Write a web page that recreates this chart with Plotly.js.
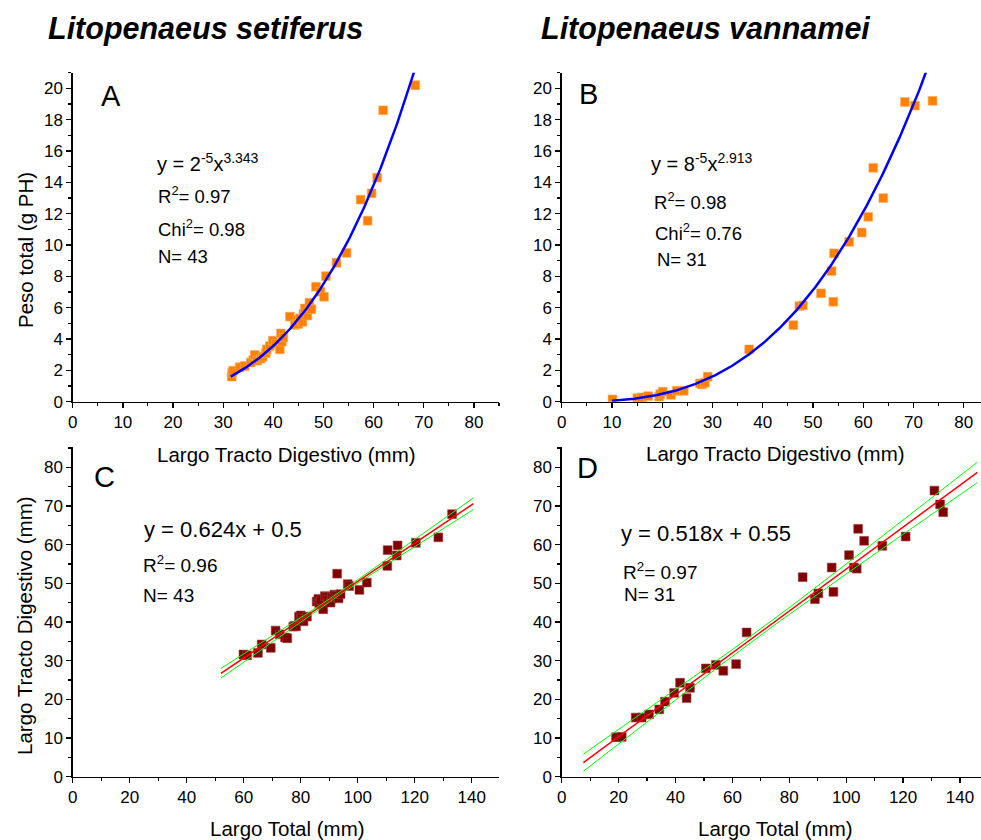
<!DOCTYPE html>
<html><head><meta charset="utf-8">
<script src="https://cdn.plot.ly/plotly-3.0.1.min.js"></script>
<style>body{margin:0;background:#fff}#chart{width:981px;height:840px}</style>
</head><body><div id="chart"></div>
<script>
// ---------- Data ----------
// Panel A: Litopenaeus setiferus, Largo Tracto Digestivo (mm) vs Peso total (g PH)
const aLength = [31.7,31.8,32.0,33.3,34.3,35.5,36.0,36.3,36.8,37.5,37.9,38.5,38.7,39.3,39.9,40.5,41.3,41.5,41.7,42.0,43.3,44.3,44.8,45.0,45.3,45.8,46.0,46.3,46.8,47.2,47.6,48.5,49.4,50.1,50.5,52.6,54.6,57.4,58.8,59.6,60.7,61.9,68.3];
const aWeight = [1.60,1.85,1.98,2.20,2.28,2.50,2.66,2.98,2.62,2.75,2.87,3.10,3.34,3.55,3.90,3.70,3.34,4.36,3.83,4.10,5.43,4.90,5.20,4.96,5.32,5.10,5.60,5.96,5.50,6.32,5.90,7.34,7.02,6.70,8.02,8.87,9.50,12.90,11.55,13.30,14.30,18.60,20.20];
// Panel B: Litopenaeus vannamei
const bLength = [10.1,15.05,15.8,16.1,17.2,19.4,19.6,20.1,21.75,22.9,24.3,27.5,27.9,28.5,29.05,37.3,46.1,47.3,48.0,51.6,54.05,53.7,54.2,57.2,59.7,61.0,64.0,62.0,68.3,70.3,73.8];
const bWeight = [0.15,0.22,0.25,0.28,0.36,0.32,0.48,0.64,0.43,0.70,0.70,1.17,1.10,1.21,1.60,3.34,4.89,6.10,6.15,6.92,6.38,8.34,9.47,10.2,10.8,11.8,13.0,14.93,19.13,18.9,19.2];
// Panel C: Largo Total (mm) vs Largo Tracto Digestivo (mm), L. setiferus
const cTotal = [59.9,61.2,65.0,66.3,69.5,71.2,72.7,74.5,75.3,77.4,78.0,78.4,79.4,80.0,80.4,81.0,82.2,85.6,86.2,86.5,87.0,87.9,88.5,89.1,89.7,90.5,91.0,91.8,92.5,92.8,93.3,94.0,96.5,97.0,100.6,103.2,110.4,110.5,113.7,114.0,120.4,128.3,133.1];
const cTract = [31.6,31.4,32.0,34.2,33.3,37.8,36.8,36.0,35.8,38.8,39.0,38.9,41.4,41.7,40.9,40.2,41.4,45.3,46.0,44.8,45.6,43.3,46.7,46.5,45.7,45.0,46.4,47.1,46.8,52.5,46.1,47.2,49.8,49.3,48.3,50.2,54.5,58.6,57.2,59.8,60.5,61.9,67.9];
// Panel D: L. vannamei
const dTotal = [19.1,21.1,26.0,28.1,30.7,34.3,36.3,39.5,41.6,43.9,45.1,50.7,54.2,56.8,61.3,65.0,84.7,89.0,90.2,94.9,95.5,101.0,102.7,103.7,104.2,106.3,112.7,120.9,131.0,133.0,134.1];
const dTract = [10.2,10.3,15.3,15.3,16.1,17.4,19.4,21.7,24.3,20.3,23.0,28.0,28.9,27.4,29.1,37.3,51.6,45.9,47.4,54.1,47.8,57.3,54.1,53.8,64.1,61.0,59.7,62.1,74.0,70.4,68.4];

// Fitted models as drawn
const aFit = {coef:1.57e-5, exp:3.343, from:31.5, to:70};
const bFit = {coef:8e-5, exp:2.913, from:10, to:76};
const cFit = {slope:0.495, icpt:1.0, from:52, to:140.6, hw0:0.35, hw1:0.03, xm:92};
const dFit = {slope:0.542, icpt:-0.5, from:7.6, to:146.1, hw0:0.8, hw1:0.033, xm:70};

// ---------- Helpers ----------
const W = 981, H = 840;
const px = x => x / W, py = y => 1 - y / H;
const FONT = 'Liberation Sans, Arial, sans-serif';

function powerCurve(f){
  const xs=[], ys=[];
  for(let x=f.from; x<=f.to+1e-9; x+=0.25){ xs.push(x); ys.push(f.coef*Math.pow(x,f.exp)); }
  return {xs, ys};
}
function linBands(f){
  const xs=[], y=[], up=[], lo=[];
  for(let x=f.from; x<=f.to+1e-9; x+=(f.to-f.from)/100){
    const yy=f.slope*x+f.icpt;
    const hw=Math.sqrt(f.hw0*f.hw0 + Math.pow(f.hw1*(x-f.xm),2));
    xs.push(x); y.push(yy); up.push(yy+hw); lo.push(yy-hw);
  }
  return {xs,y,up,lo};
}

const orange = '#FF8000', maroon = '#800000';
const traces = [];
function pts(x,y,color,xa,ya){
  traces.push({x,y,xaxis:xa,yaxis:ya,type:'scatter',mode:'markers',
    marker:{symbol:'square',size:8.8,color:color,line:{width:0.6,color:color==orange?'#ffb060':'#a04040'}},
    showlegend:false,hoverinfo:'x+y'});
}
function line(x,y,color,w,xa,ya){
  traces.push({x,y,xaxis:xa,yaxis:ya,type:'scatter',mode:'lines',line:{color,width:w},showlegend:false,hoverinfo:'skip'});
}

pts(aLength,aWeight,orange,'x','y');
const ac=powerCurve(aFit); line(ac.xs,ac.ys,'#0000FF',2.5,'x','y');
pts(bLength,bWeight,orange,'x2','y2');
const bc=powerCurve(bFit); line(bc.xs,bc.ys,'#0000FF',2.5,'x2','y2');
pts(cTotal,cTract,maroon,'x3','y3');
const cb=linBands(cFit);
line(cb.xs,cb.up,'#00FF00',1,'x3','y3'); line(cb.xs,cb.lo,'#00FF00',1,'x3','y3'); line(cb.xs,cb.y,'#FF0000',1.5,'x3','y3');
pts(dTotal,dTract,maroon,'x4','y4');
const db=linBands(dFit);
line(db.xs,db.up,'#00FF00',1,'x4','y4'); line(db.xs,db.lo,'#00FF00',1,'x4','y4'); line(db.xs,db.y,'#FF0000',1.5,'x4','y4');

function axis(domain, range, dtick, mdtick, anchor){
  return {domain, range, dtick, tick0:0, anchor, showline:true, linecolor:'#000', linewidth:1.3,
    ticks:'outside', ticklen:5, tickwidth:1.3, tickcolor:'#000',
    minor:{ticks:'outside', ticklen:3, tickwidth:1.1, tickcolor:'#000', dtick:mdtick, showgrid:false},
    showgrid:false, zeroline:false, tickfont:{family:FONT,size:17,color:'#000'}, fixedrange:true};
}
const xTop=[px(72.7),px(499)], xTopR=[px(561.7),1];
const yTop=[py(401.7),py(72.7)], yBot=[py(776.7),py(447.3)];

const layout = {
  width:W, height:H, margin:{l:0,r:0,t:0,b:0}, paper_bgcolor:'#fff', plot_bgcolor:'rgba(0,0,0,0)',
  font:{family:FONT,color:'#000'},
  xaxis: axis(xTop,[0,85],10,5,'y'),
  yaxis: axis(yTop,[0,21],2,1,'x'),
  xaxis2: axis(xTopR,[0,(981-561.7)/5.025],10,5,'y2'),
  yaxis2: axis(yTop,[0,21],2,1,'x2'),
  xaxis3: axis(xTop,[0,(499-72.7)/2.85],20,10,'y3'),
  yaxis3: axis(yBot,[0,(776.7-447.3)/3.867],10,5,'x3'),
  xaxis4: axis(xTopR,[0,(981-561.7)/2.845],20,10,'y4'),
  yaxis4: axis(yBot,[0,(776.7-447.3)/3.867],10,5,'x4'),
  annotations:[]
};
function txt(t,x,y,size,opts){
  layout.annotations.push(Object.assign({text:t,x:px(x),y:py(y),xref:'paper',yref:'paper',
    xanchor:'left',yanchor:'middle',showarrow:false,font:{family:FONT,size:size,color:'#000'}},opts||{}));
}
// Column titles
txt('<b><i>Litopenaeus setiferus</i></b>',46,29,30.5);
txt('<b><i>Litopenaeus vannamei</i></b>',539,29,30.5);
// Panel letters
txt('A',99,96,29); txt('B',577,94,29); txt('C',92,477,29); txt('D',575,468,29);
// Panel A stats
txt('y = 2<sup>-5</sup>x<sup>3.343</sup>',155,163,20);
txt('R<sup>2</sup>= 0.97',156,195,18.5);
txt('Chi<sup>2</sup>= 0.98',156,228,18.5);
txt('N= 43',156,256,18.5);
// Panel B stats
txt('y = 8<sup>-5</sup>x<sup>2.913</sup>',649,163,20);
txt('R<sup>2</sup>= 0.98',652,201,18.5);
txt('Chi<sup>2</sup>= 0.76',653,232,18.5);
txt('N= 31',655,259,18.5);
// Panel C stats
txt('y = 0.624x + 0.5',142,529,22);
txt('R<sup>2</sup>= 0.96',141,564,19);
txt('N= 43',141,595,19);
// Panel D stats
txt('y = 0.518x + 0.55',619,533,22);
txt('R<sup>2</sup>= 0.97',621,571,19);
txt('N= 31',622,594,19);
// Axis titles
const tf = 20.5;
txt('Peso total (g PH)',25,250,tf,{xanchor:'center',textangle:-90});
txt('Largo Tracto Digestivo (mm)',286,454,tf,{xanchor:'center'});
txt('Largo Tracto Digestivo (mm)',775,453,tf,{xanchor:'center'});
txt('Largo Tracto Digestivo (mm)',24,626,tf,{xanchor:'center',textangle:-90});
txt('Largo Total (mm)',287,828,tf,{xanchor:'center'});
txt('Largo Total (mm)',775,828,tf,{xanchor:'center'});

Plotly.newPlot('chart', traces, layout, {displayModeBar:false, staticPlot:true});
</script></body></html>
